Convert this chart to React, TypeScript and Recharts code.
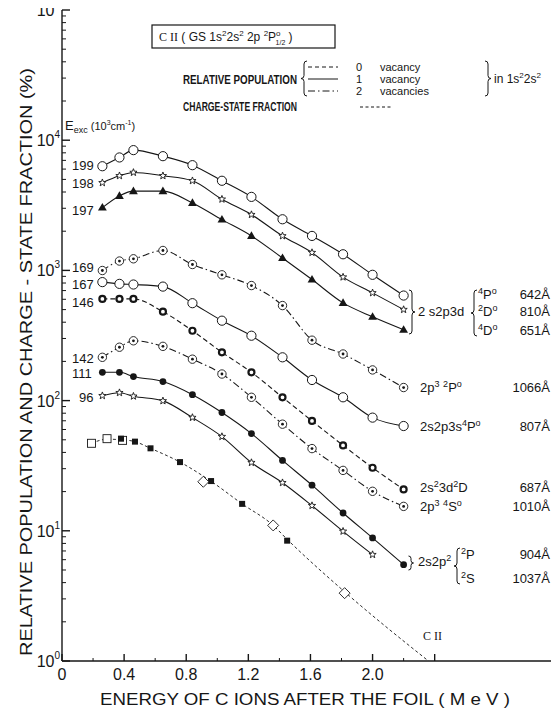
import React from "react";
import { ComposedChart, Line, XAxis, YAxis } from "recharts";

// energy after the foil (MeV) at which every curve was measured
const energy = [0.26, 0.37, 0.46, 0.65, 0.84, 1.03, 1.22, 1.42, 1.61, 1.81, 2.0, 2.2];

// relative population (%) per level, labelled by E_exc (10^3 cm-1)
const pop199 = [6310, 7370, 8390, 7540, 6430, 4880, 3670, 2470, 1840, 1330, 925, 641];
const pop198 = [4710, 5330, 5650, 5330, 4880, 3520, 2680, 1840, 1370, 888, 672, 500];
const pop197 = [3035, 3735, 4060, 4060, 3300, 2455, 1840, 1245, 851, 563, 440, 350];
const pop169 = [998, 1180, 1228, 1422, 1110, 925, 765, 537, 291, 228, 172, 126];
const pop167 = [813, 788, 779, 751, 560, 411, 315, 215, 144, 106, 74, 63.8];
const pop146 = [604, 604, 604, 482, 344, 235, 165, 106, 69.8, 45.3, 30.5, 20.8];
const pop142 = [215, 257, 288, 261, 208, 160, 106, 65.9, 42.8, 29.1, 20.1, 15.4];
const pop111 = [165, 165, 153, 140, 111, 81, 55.8, 34.7, 22.4, 13.7, 8.82, 5.49];
const pop96 = [109, 115, 108, 99.5, 74.1, 52.9, 33.4, 23.4, 15.6, 9.91, 6.56];

// C II charge-state fraction (%)
const frE = [0.19, 0.29, 0.39, 0.47, 0.57, 0.76, 0.96, 1.16, 1.36, 1.45, 1.82, 2.36];
const frVal = [47, 50.5, 50, 48.4, 43, 33.7, 24, 16.1, 11, 8.6, 3.4, 1.0];
const openSqE = [0.19, 0.29, 0.39];
const openSqVal = [47, 51, 49.5];
const fillSqE = [0.38, 0.47, 0.57, 0.76, 0.96, 1.16, 1.45];
const fillSqVal = [51, 48.4, 43, 33.7, 24.1, 16.1, 8.4];
const diamondE = [0.91, 1.36, 1.82];
const diamondVal = [23.8, 11, 3.32];

const xTicks = [0, 0.2, 0.4, 0.6, 0.8, 1.0, 1.2, 1.4, 1.6, 1.8, 2.0, 2.2, 2.4];
const xLabels = [0, 0.4, 0.8, 1.2, 1.6, 2.0];
const decades = [1, 10, 100, 1000, 10000, 100000];

const INK = "#161616";
const FONT = "'Liberation Sans', Arial, Helvetica, sans-serif";
const SERIF = "'Liberation Serif', 'Times New Roman', serif";

const rows = (ys: number[], xs: number[] = energy) => ys.map((y, i) => ({ x: xs[i], y }));

const yTicks: number[] = [];
decades.forEach((d) => {
  if (d === 100000) { yTicks.push(d); return; }
  for (let k = 1; k <= 9; k++) yTicks.push(d * k);
});

const star = (cx: number, cy: number, R: number, r: number) =>
  Array.from({ length: 10 }, (_, i) => {
    const a = -Math.PI / 2 + (i * Math.PI) / 5;
    const rad = i % 2 ? r : R;
    return `${cx + rad * Math.cos(a)},${cy + rad * Math.sin(a)}`;
  }).join(" ");

function Mark({ kind, cx, cy }: { kind: string; cx?: number; cy?: number }) {
  if (cx == null || cy == null) return null;
  switch (kind) {
    case "open":
      return <circle cx={cx} cy={cy} r={4.6} fill="#fff" stroke={INK} strokeWidth={1} />;
    case "star":
      return <polygon points={star(cx, cy, 3.8, 1.6)} fill="#fff" stroke={INK} strokeWidth={0.9} />;
    case "tri":
      return <polygon points={`${cx},${cy - 4.6} ${cx + 4.4},${cy + 3} ${cx - 4.4},${cy + 3}`} fill={INK} />;
    case "dotted":
      return (
        <g>
          <circle cx={cx} cy={cy} r={4.2} fill="#fff" stroke={INK} strokeWidth={0.9} />
          <circle cx={cx} cy={cy} r={1.4} fill={INK} />
        </g>
      );
    case "thick":
      return <circle cx={cx} cy={cy} r={3} fill="#fff" stroke={INK} strokeWidth={2.2} />;
    case "fill":
      return <circle cx={cx} cy={cy} r={3.4} fill={INK} />;
    case "osq":
      return <rect x={cx - 4} y={cy - 4} width={8} height={8} fill="#fff" stroke={INK} strokeWidth={0.9} />;
    case "fsq":
      return <rect x={cx - 3} y={cy - 3} width={6} height={6} fill={INK} />;
    case "dia":
      return <polygon points={`${cx},${cy - 5.5} ${cx + 5.5},${cy} ${cx},${cy + 5.5} ${cx - 5.5},${cy}`} fill="#fff" stroke={INK} strokeWidth={0.9} />;
    default:
      return null;
  }
}

const dotOf = (kind: string) => (p: any) => <Mark key={`${kind}-${p.index}`} kind={kind} cx={p.cx} cy={p.cy} />;

const DASH0 = "5 3";
const DASH2 = "7 3 1.5 3";

const series = [
  { id: "199", ys: pop199, dash: undefined, mark: "open" },
  { id: "198", ys: pop198, dash: undefined, mark: "star" },
  { id: "197", ys: pop197, dash: undefined, mark: "tri" },
  { id: "169", ys: pop169, dash: DASH2, mark: "dotted" },
  { id: "167", ys: pop167, dash: undefined, mark: "open" },
  { id: "146", ys: pop146, dash: DASH0, mark: "thick" },
  { id: "142", ys: pop142, dash: DASH2, mark: "dotted" },
  { id: "111", ys: pop111, dash: undefined, mark: "fill" },
  { id: "96", ys: pop96, dash: undefined, mark: "star" },
];

function YTick(props: any) {
  const { x, y, payload } = props;
  const v = payload.value;
  const lg = Math.log10(v);
  const e = Math.round(lg);
  const major = Math.abs(lg - e) < 1e-6;
  return (
    <g>
      <line x1={x} x2={x + (major ? 8 : 4)} y1={y} y2={y} stroke={INK} strokeWidth={major ? 1.4 : 1} />
      {major && (
        <text x={x - 2} y={y + 6} textAnchor="end" fontSize={16} fontFamily={FONT} fill={INK}>
          10<tspan dy={-8} fontSize={10}>{e}</tspan>
        </text>
      )}
    </g>
  );
}

function XTick(props: any) {
  const { x, y, payload } = props;
  const v = payload.value;
  const major = Math.abs(v / 0.4 - Math.round(v / 0.4)) < 1e-6;
  const labelled = xLabels.some((l) => Math.abs(l - v) < 1e-6);
  return (
    <g>
      <line x1={x} x2={x} y1={y} y2={y - (major ? 7 : 3)} stroke={INK} strokeWidth={major ? 1.4 : 1} />
      {labelled && (
        <text x={x} y={y + 19} textAnchor="middle" fontSize={16} fontFamily={FONT} fill={INK}>
          {v === 0 ? "0" : v.toFixed(1)}
        </text>
      )}
    </g>
  );
}

// curly brace, tip pointing left (dir = 1) or right (dir = -1)
const brace = (x: number, y1: number, y2: number, dir: number, w = 4) => {
  const m = (y1 + y2) / 2;
  const s = w * dir;
  return `M ${x + s} ${y1} Q ${x} ${y1} ${x} ${y1 + w} L ${x} ${m - w} Q ${x} ${m} ${x - s} ${m} Q ${x} ${m} ${x} ${m + w} L ${x} ${y2 - w} Q ${x} ${y2} ${x + s} ${y2}`;
};

function Sup({ t, fs = 9 }: { t: string; fs?: number }) {
  return <tspan dy={-5} fontSize={fs}>{t}</tspan>;
}
function Base({ t }: { t: string }) {
  return <tspan dy={5}>{t}</tspan>;
}

function Notes() {
  const t = { fontFamily: FONT, fill: INK };
  const left = [
    ["199", 72, 170],
    ["198", 72, 188],
    ["197", 72, 215],
    ["169", 72, 272],
    ["167", 72, 289],
    ["146", 72, 307],
    ["142", 72, 363],
    ["111", 72, 378],
    ["96", 79, 402],
  ] as const;
  return (
    <svg width={559} height={709} style={{ position: "absolute", left: 0, top: 0, pointerEvents: "none" }}>
      {/* axis titles */}
      <text transform="translate(32,362) rotate(-90)" textAnchor="middle" fontSize={16} textLength={588} lengthAdjust="spacingAndGlyphs" {...t}>
        RELATIVE POPULATION AND CHARGE - STATE FRACTION (%)
      </text>
      <text x={100} y={705} fontSize={16} textLength={410} lengthAdjust="spacingAndGlyphs" {...t}>
        ENERGY OF C  IONS AFTER THE FOIL ( M e V )
      </text>

      {/* title box */}
      <rect x={152} y={25} width={183} height={23} fill="none" stroke={INK} strokeWidth={1.2} />
      <text x={159} y={41} fontSize={12} {...t}>
        <tspan fontFamily={SERIF}>C II</tspan>
        <tspan> ( GS 1s</tspan>
        <Sup t="2" fs={8} />
        <Base t="2s" />
        <Sup t="2" fs={8} />
        <Base t=" 2p " />
        <Sup t="2" fs={8} />
        <Base t="P" />
        <tspan dy={-5} fontSize={8}>o</tspan>
        <tspan dx={-5} dy={9} fontSize={7}>1/2</tspan>
        <tspan dy={-4}> )</tspan>
      </text>

      {/* legend */}
      <text x={183} y={84} fontSize={12} fontWeight={700} textLength={114} lengthAdjust="spacingAndGlyphs" {...t}>
        RELATIVE POPULATION
      </text>
      <text x={183} y={111} fontSize={12} fontWeight={700} textLength={114} lengthAdjust="spacingAndGlyphs" {...t}>
        CHARGE-STATE FRACTION
      </text>
      <path d={brace(304, 61, 96, 1, 3)} fill="none" stroke={INK} />
      <line x1={308} x2={338} y1={67} y2={67} stroke={INK} strokeDasharray="4 3" />
      <line x1={308} x2={338} y1={79} y2={79} stroke={INK} />
      <line x1={308} x2={338} y1={91} y2={91} stroke={INK} strokeDasharray={DASH2} />
      <line x1={360} x2={392} y1={107} y2={107} stroke={INK} strokeDasharray="3 2.5" />
      <text x={356} y={70.5} fontSize={11} {...t}>0<tspan x={380}>vacancy</tspan></text>
      <text x={356} y={82.5} fontSize={11} {...t}>1<tspan x={380}>vacancy</tspan></text>
      <text x={356} y={94.5} fontSize={11} {...t}>2<tspan x={380}>vacancies</tspan></text>
      <path d={brace(488, 61, 96, -1, 3)} fill="none" stroke={INK} />
      <text x={494} y={83} fontSize={12} {...t}>
        in 1s<Sup t="2" fs={8} /><Base t="2s" /><Sup t="2" fs={8} />
      </text>

      {/* excitation energies */}
      <text x={65} y={130} fontSize={13} {...t}>
        E<tspan dy={3} fontSize={9}>exc</tspan>
        <tspan dy={-3} fontSize={11}> (10</tspan>
        <Sup t="3" fs={7} />
        <tspan dy={5} fontSize={11}>cm</tspan>
        <Sup t="-1" fs={7} />
        <tspan dy={5} fontSize={11}>)</tspan>
      </text>
      {left.map(([s, x, y]) => (
        <text key={s} x={x} y={y} fontSize={13} {...t}>{s}</text>
      ))}

      {/* transitions */}
      <path d={brace(412, 290, 334, -1, 3)} fill="none" stroke={INK} />
      <text x={418} y={316} fontSize={13} {...t}>2 s2p3d</text>
      <path d={brace(474, 290, 336, 1, 3)} fill="none" stroke={INK} />
      <text x={478} y={299} fontSize={13} {...t}><Sup t="4" /><Base t="P" /><Sup t="o" /></text>
      <text x={478} y={316} fontSize={13} {...t}><Sup t="2" /><Base t="D" /><Sup t="o" /></text>
      <text x={478} y={335} fontSize={13} {...t}><Sup t="4" /><Base t="D" /><Sup t="o" /></text>
      <text x={550} y={299} fontSize={13} textAnchor="end" {...t}>642Å</text>
      <text x={550} y={316} fontSize={13} textAnchor="end" {...t}>810Å</text>
      <text x={550} y={335} fontSize={13} textAnchor="end" {...t}>651Å</text>

      <text x={420} y={392} fontSize={13} {...t}>2p<Sup t="3" /><Base t=" " /><Sup t="2" /><Base t="P" /><Sup t="o" /></text>
      <text x={550} y={392} fontSize={13} textAnchor="end" {...t}>1066Å</text>
      <text x={420} y={431} fontSize={13} {...t}>2s2p3s<Sup t="4" /><Base t="P" /><Sup t="o" /></text>
      <text x={550} y={431} fontSize={13} textAnchor="end" {...t}>807Å</text>
      <text x={420} y={492} fontSize={13} {...t}>2s<Sup t="2" /><Base t="3d" /><Sup t="2" /><Base t="D" /></text>
      <text x={550} y={492} fontSize={13} textAnchor="end" {...t}>687Å</text>
      <text x={420} y={511} fontSize={13} {...t}>2p<Sup t="3" /><Base t=" " /><Sup t="4" /><Base t="S" /><Sup t="o" /></text>
      <text x={550} y={511} fontSize={13} textAnchor="end" {...t}>1010Å</text>

      <path d={brace(411, 556, 570, -1, 2.5)} fill="none" stroke={INK} />
      <text x={418} y={566} fontSize={13} {...t}>2s2p<Sup t="2" /></text>
      <path d={brace(457, 548, 584, 1, 3)} fill="none" stroke={INK} />
      <text x={461} y={559} fontSize={13} {...t}><Sup t="2" /><Base t="P" /></text>
      <text x={461} y={583} fontSize={13} {...t}><Sup t="2" /><Base t="S" /></text>
      <text x={550} y={559} fontSize={13} textAnchor="end" {...t}>904Å</text>
      <text x={550} y={583} fontSize={13} textAnchor="end" {...t}>1037Å</text>

      <text x={423} y={640} fontSize={12} fontFamily={SERIF} fill={INK}>C II</text>
    </svg>
  );
}

export default function App() {
  return (
    <div style={{ position: "relative", width: 559, height: 709, margin: "-8px 0 0 -8px", background: "#fff" }}>
      <ComposedChart width={559} height={709} margin={{ top: 10, right: 6, bottom: 0, left: 0 }}>
        <XAxis
          dataKey="x"
          type="number"
          domain={[0, 3.162]}
          ticks={xTicks}
          interval={0}
          tickSize={0}
          tickMargin={0}
          tick={<XTick />}
          tickLine={false}
          height={48}
          axisLine={{ stroke: INK, strokeWidth: 1.4 }}
          allowDataOverflow
        />
        <XAxis xAxisId="top" orientation="top" type="number" domain={[0, 1]} tick={false} tickLine={false} height={0} axisLine={{ stroke: INK, strokeWidth: 1.2 }} />
        <YAxis
          type="number"
          scale="log"
          domain={[1, 100000]}
          ticks={yTicks}
          interval={0}
          tickSize={0}
          tickMargin={0}
          tick={<YTick />}
          tickLine={false}
          width={62}
          axisLine={{ stroke: INK, strokeWidth: 1.4 }}
          allowDataOverflow
        />
        <YAxis yAxisId="right" orientation="right" type="number" domain={[0, 1]} tick={false} tickLine={false} width={0} axisLine={{ stroke: INK, strokeWidth: 1.2 }} />

        <Line
          data={rows(frVal, frE)}
          dataKey="y"
          type="monotone"
          stroke={INK}
          strokeWidth={0.9}
          strokeDasharray="3 2.5"
          dot={false}
          activeDot={false}
          isAnimationActive={false}
        />
        {series.map((s) => (
          <Line
            key={s.id}
            data={rows(s.ys)}
            dataKey="y"
            type="monotone"
            stroke={INK}
            strokeWidth={1.1}
            strokeDasharray={s.dash}
            dot={dotOf(s.mark)}
            activeDot={false}
            isAnimationActive={false}
          />
        ))}
        <Line data={rows(openSqVal, openSqE)} dataKey="y" stroke="none" dot={dotOf("osq")} activeDot={false} isAnimationActive={false} />
        <Line data={rows(fillSqVal, fillSqE)} dataKey="y" stroke="none" dot={dotOf("fsq")} activeDot={false} isAnimationActive={false} />
        <Line data={rows(diamondVal, diamondE)} dataKey="y" stroke="none" dot={dotOf("dia")} activeDot={false} isAnimationActive={false} />
      </ComposedChart>
      <Notes />
    </div>
  );
}
